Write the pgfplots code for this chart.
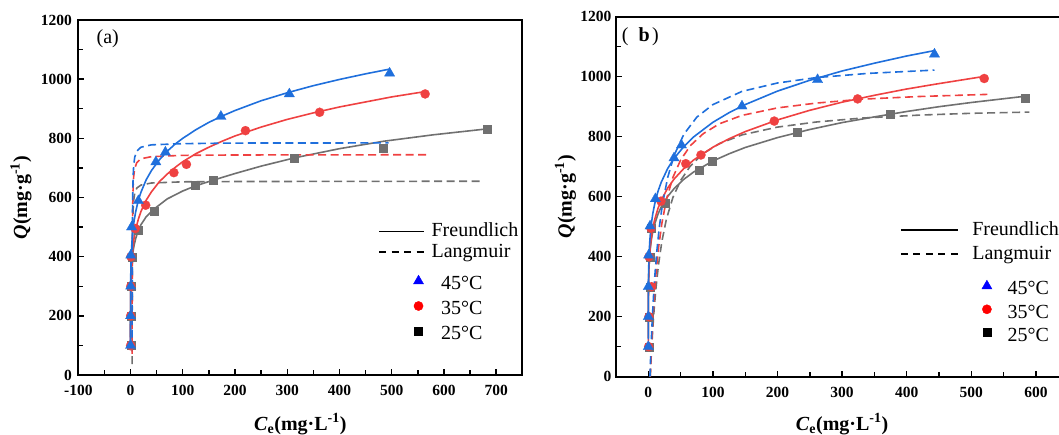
\documentclass[border=0pt]{standalone}
\usepackage{fontspec}
\setmainfont{Liberation Serif}
\usepackage{pgfplots}
\pgfplotsset{compat=1.18}
\definecolor{cB}{RGB}{31,111,220}
\definecolor{cR}{RGB}{239,65,65}
\definecolor{cG}{RGB}{112,112,112}
\pgfplotsset{
 base/.style={scale only axis, ymin=0, ymax=1200, ytick={0,200,...,1200},
  minor x tick num=1, minor y tick num=1, tick align=inside, tick pos=left,
  major tick length=6pt, minor tick length=4.5pt,
  tick style={line width=1.4pt, black}, axis line style={line width=1.8pt},
  tick label style={font=\fontsize{15.5}{18}\selectfont\bfseries},
  /pgf/number format/assume math mode=true, /pgf/number format/1000 sep={},
  scaled ticks=false, xticklabel style={yshift=-6.5pt},
  label style={font=\fontsize{20}{24}\selectfont\bfseries}},
 fr/.style={no marks, line width=1.6pt, solid, #1},
 la/.style={no marks, line width=1.6pt, dash pattern=on 8pt off 4.5pt, #1},
 mT/.style={only marks, mark=triangle*, mark size=6pt, mark options={solid, fill=#1, draw=#1, line width=0.2pt}},
 mC/.style={only marks, mark=*, mark size=4.6pt, mark options={solid, fill=#1, draw=#1, line width=0.2pt}},
 mS/.style={only marks, mark=square*, mark size=4pt, mark options={solid, fill=#1, draw=#1, line width=0.2pt}},
 legA/.style={legend cell align=left, legend style={draw=none, fill=none, inner sep=0pt, outer sep=0pt, row sep=0pt,
   nodes={inner xsep=0pt, inner ysep=#1, text height=14pt, text depth=4pt, anchor=west, font=\fontsize{20}{24}\selectfont}}},
}
\begin{document}
\begin{tikzpicture}
\useasboundingbox (0pt,0pt) rectangle (1059pt,435pt);
\clip (0pt,0pt) rectangle (1059pt,435pt);
% ---------------- panel (a)
\begin{axis}[base, at={(78.3pt,60pt)}, anchor=south west, width=444pt, height=355pt,
  xmin=-100, xmax=750, xtick={-100,0,...,700},
  yticklabel style={xshift=-3pt},
  xlabel={\textit{C}\textsubscript{e}(mg·L\textsuperscript{-1})},
  ylabel={\textit{Q}(mg·g\textsuperscript{-1})},
  xlabel style={at={(axis description cs:0.5,0)}, anchor=base, yshift=-55.5pt},
  ylabel style={at={(axis description cs:-0.129,0.5)}, anchor=center},
  legA=1.3pt,
  legend style={at={(axis description cs:0.6757,0.4327)}, anchor=north west},
  legend image code/.code={\draw[#1] (0pt,0pt) -- (45pt,0pt); \path (51.7pt,0pt);}]
\addlegendimage{black, line width=1.6pt}\addlegendentry{Freundlich}
\addlegendimage{black, line width=1.6pt, dash pattern=on 7pt off 5.5pt}\addlegendentry{Langmuir}
% 25 C
\addplot[la=cG] coordinates {(3.02,37)(3.1,151)(3.3,310)(3.6,421)(4,491)(5,561)(6,590)(8,614)(12,632)(20,642)(40,649)(100,653)(200,654)(675,655)};
\addplot[fr=cG] coordinates {(0.001,127)(0.01,176)(0.1,243)(0.5,304)(1,335)(2,369)(3,391)(5,420)(7,440)(10,462)(15,490)(20,508)(30,535)(45,561)(70,595)(100,622)(124,639)(159,659)(200,681)(250,706)(314,734)(400,765)(484,790)(580,812)(683,832)};
\addplot[mS=cG] coordinates {(0.3,100)(0.6,200)(1,300)(3,400)(15,490)(45,555)(124,642)(159,658)(314,732)(484,766)(683,830)};
% 35 C
\addplot[la=cR] coordinates {(3.035,71)(3.1,172)(3.3,353)(3.6,479)(4,559)(5,639)(6,671)(8,698)(12,718)(20,731)(40,738)(100,742.5)(200,743.7)(566,744.5)};
\addplot[fr=cR] coordinates {(0.0002,83)(0.001,108)(0.01,158)(0.1,230)(0.5,301)(1,337)(2,378)(3,404)(5,440)(7,465)(10,493)(15,527)(20,553)(30,591)(40,619)(55,653)(70,679)(85,701)(100,721)(125,748)(150,770)(175,790)(200,808)(250,838)(300,864)(350,886)(400,906)(450,923)(500,940)(564,958)};
\addplot[mC=cR] coordinates {(0.2,100)(0.3,200)(0.5,300)(0.8,400)(9,495)(29,574)(83,684)(107,712)(220,826)(362,888)(564,950)};
% 45 C
\addplot[la=cB] coordinates {(3.04,84)(3.1,181)(3.3,372)(3.6,505)(4,589)(5,673)(6,707)(8,736)(12,757)(20,770)(40,778)(100,782)(200,784)(494,784.5)};
\addplot[fr=cB] coordinates {(0.0002,98)(0.001,127)(0.01,183)(0.1,265)(0.5,343)(1,383)(2,428)(3,457)(5,495)(7,523)(10,553)(15,591)(20,618)(30,660)(40,691)(55,727)(70,756)(85,780)(100,800)(125,829)(150,854)(175,875)(200,894)(250,927)(300,954)(350,978)(400,999)(450,1018)(496,1034)};
\addplot[mT=cB] coordinates {(0.1,100)(0.15,200)(0.3,300)(0.5,405)(2,500)(15,589)(48.5,720)(66.7,753)(173,874)(304,950)(496,1020)};
\end{axis}
\begin{axis}[at={(78.3pt,60pt)}, anchor=south west, scale only axis, width=444pt, height=355pt,
  xmin=0, xmax=1, ymin=0, ymax=1, hide axis, legA=3.5pt,
  legend style={at={(axis description cs:0.7523,0.2907)}, anchor=north west},
  legend image code/.code={\draw[#1] plot coordinates {(0pt,3.3pt)}; \path (-6pt,0pt) (22.4pt,0pt);}]
\addlegendimage{only marks, mark=triangle*, mark size=5.8pt, mark options={fill=blue, draw=blue}}\addlegendentry{45°C}
\addlegendimage{only marks, mark=*, mark size=4.6pt, mark options={fill=red, draw=red}}\addlegendentry{35°C}
\addlegendimage{only marks, mark=square*, mark size=4pt, mark options={fill=black, draw=black}}\addlegendentry{25°C}
\end{axis}
% ---------------- panel (b)
\begin{axis}[base, at={(616pt,58.3pt)}, anchor=south west, width=452.2pt, height=360pt,
  xmin=-50, xmax=650, xtick={0,100,...,600},
  yticklabel style={xshift=-1.2pt},
  xlabel={\textit{C}\textsubscript{e}(mg·L\textsuperscript{-1})},
  ylabel={\textit{Q}(mg·g\textsuperscript{-1})},
  xlabel style={at={(axis description cs:0.5,0)}, anchor=base, yshift=-53.8pt},
  ylabel style={at={(axis description cs:-0.1117,0.5)}, anchor=center},
  legA=3pt,
  legend style={at={(axis description cs:0.6281,0.4381)}, anchor=north west},
  legend image code/.code={\draw[#1] (0pt,1pt) -- (56.7pt,1pt); \path (70.7pt,0pt);}]
\addlegendimage{black, line width=1.6pt}\addlegendentry{Freundlich}
\addlegendimage{black, line width=1.6pt, dash pattern=on 7pt off 5.5pt}\addlegendentry{Langmuir}
% 25 C
\addplot[la=cG] coordinates {(3,0)(5,89)(7,163)(9,224)(12,299)(16,377)(21,451)(28,525)(38,597)(50,654)(65,702)(85,744)(110,777)(145,806)(200,832)(260,849)(330,862)(420,872)(500,878)(590,882)};
\addplot[fr=cG] coordinates {(0.001,129)(0.01,182)(0.1,257)(0.5,326)(1,362)(2,401)(3,426)(5,460)(7,484)(10,510)(15,542)(20,566)(30,601)(40,627)(55,658)(70,682)(100,719)(125,743)(150,764)(200,797)(250,824)(300,847)(350,866)(400,884)(450,900)(500,914)(584,935)};
\addplot[mS=cG] coordinates {(0.5,100)(1,200)(2,300)(3,400)(4,495)(25.8,578)(79,689)(99.5,720)(230,814)(374,875)(584,927)};
% 35 C
\addplot[la=cR] coordinates {(3,0)(5,107)(7,193)(9,263)(12,348)(16,432)(21,511)(28,590)(38,664)(50,722)(65,770)(85,810)(110,843)(145,871)(200,896)(260,912)(330,925)(420,934)(525,941)};
\addplot[fr=cR] coordinates {(0.001,117)(0.01,170)(0.1,248)(0.5,322)(1,361)(2,404)(3,432)(5,469)(7,496)(10,525)(15,561)(20,588)(30,629)(40,659)(55,694)(70,722)(100,765)(125,793)(150,817)(200,856)(250,888)(300,915)(350,938)(400,959)(450,977)(520,1001)};
\addplot[mC=cR] coordinates {(0.5,100)(1,200)(5,300)(1,400)(4,495)(19.6,585)(58,710)(81.5,739)(195,852)(324,926)(520,994)};
% 45 C
\addplot[la=cB] coordinates {(2.5,0)(4,89)(6,186)(8,266)(10,333)(13,414)(17,498)(22,576)(30,664)(40,738)(55,808)(75,865)(100,907)(145,951)(200,979)(260,997)(340,1011)(443,1022)};
\addplot[fr=cB] coordinates {(0.001,124)(0.01,182)(0.1,268)(0.5,350)(1,393)(2,441)(3,472)(5,514)(7,544)(10,577)(15,618)(20,648)(30,694)(40,728)(55,767)(70,799)(100,848)(125,880)(150,907)(200,952)(250,988)(300,1019)(350,1045)(400,1069)(443,1087)};
\addplot[mT=cB] coordinates {(0,100)(0,200)(0,300)(0.5,405)(2.7,502)(11,593)(39.8,729)(51.3,772)(145,902)(262,990)(443,1075)};
\end{axis}
\begin{axis}[at={(616pt,58.3pt)}, anchor=south west, scale only axis, width=452.2pt, height=360pt,
  xmin=0, xmax=1, ymin=0, ymax=1, hide axis, legA=2.65pt,
  legend style={at={(axis description cs:0.8065,0.2732)}, anchor=north west},
  legend image code/.code={\draw[#1] plot coordinates {(0pt,4pt)}; \path (-6pt,0pt) (20.6pt,0pt);}]
\addlegendimage{only marks, mark=triangle*, mark size=5.8pt, mark options={fill=blue, draw=blue}}\addlegendentry{45°C}
\addlegendimage{only marks, mark=*, mark size=4.6pt, mark options={fill=red, draw=red}}\addlegendentry{35°C}
\addlegendimage{only marks, mark=square*, mark size=4pt, mark options={fill=black, draw=black}}\addlegendentry{25°C}
\end{axis}
\node[anchor=west, inner sep=0pt, font=\fontsize{20}{24}\selectfont] at (96.5pt,396pt) {(a)};
\node[anchor=west, inner sep=0pt, font=\fontsize{20}{24}\selectfont] at (621.7pt,398.3pt) {(\hspace{10pt}\textbf{b}\hspace{2.5pt})};
\end{tikzpicture}
\end{document}
